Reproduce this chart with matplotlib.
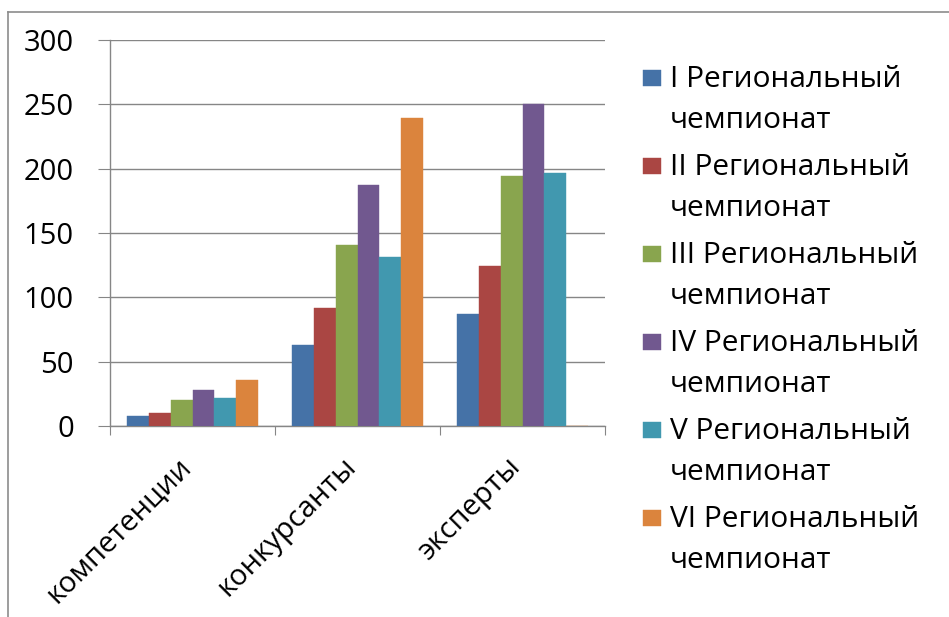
import matplotlib
matplotlib.use("Agg")
import matplotlib.pyplot as plt
import matplotlib.transforms as mtransforms
import numpy as np
from matplotlib.patches import Rectangle
from matplotlib.lines import Line2D

categories = ["компетенции", "конкурсанты", "эксперты"]
series_names = ["I Региональный\nчемпионат", "II Региональный\nчемпионат",
                "III Региональный\nчемпионат", "IV Региональный\nчемпионат",
                "V Региональный\nчемпионат", "VI Региональный\nчемпионат"]
s1 = [7.5, 63, 87]
s2 = [10, 92, 124]
s3 = [20, 141, 194]
s4 = [28, 187, 250]
s5 = [22, 131, 197]
s6 = [36, 239, 0]
series = [s1, s2, s3, s4, s5, s6]
colors = ["#4572A7", "#AA4643", "#89A54E", "#71588F", "#4198AF", "#DB843D"]
yticks = [0, 50, 100, 150, 200, 250, 300]

plt.rcParams['font.family'] = ['Open Sans', 'DejaVu Sans']
W, H = 949, 617
fig = plt.figure(figsize=(W / 100, H / 100), dpi=100)
ax = fig.add_axes([110 / W, 1 - 426 / H, 495 / W, 386 / H])

grid_c = "#868686"
x = np.arange(len(categories))
group = 0.797
bw = group / len(series)
for i, (vals, c) in enumerate(zip(series, colors)):
    ax.bar(x + (i - (len(series) - 1) / 2) * bw, vals, width=bw, color=c,
           edgecolor=c, linewidth=0.3, zorder=3)

ax.set_xlim(-0.5, len(categories) - 0.5)
ax.set_ylim(0, 300)
ax.set_yticks(yticks)
ax.set_yticklabels([str(v) for v in yticks])
ax.yaxis.grid(True, color=grid_c, linewidth=1.0, zorder=0)
ax.set_axisbelow(True)
for s in ["top", "right"]:
    ax.spines[s].set_visible(False)
for s in ["left", "bottom"]:
    ax.spines[s].set_color(grid_c)
    ax.spines[s].set_linewidth(1.0)

ax.tick_params(axis="y", length=9, width=0.8, color=grid_c, pad=17,
               labelsize=21, labelcolor="#000000")
ax.set_xticks(np.arange(-0.5, len(categories), 1.0))
ax.set_xticklabels([])
ax.tick_params(axis="x", which="major", length=6.5, width=0.8, color=grid_c)
ax.set_xticks(x, minor=True)
ax.set_xticklabels(categories, minor=True, rotation=45, ha="right",
                   va="center", rotation_mode="anchor")
ax.tick_params(axis="x", which="minor", length=0, pad=26, labelsize=21,
               labelcolor="#000000")
offset = mtransforms.ScaledTranslation(-6 / 100, 0, fig.dpi_scale_trans)
for lbl in ax.get_xticklabels(minor=True):
    lbl.set_transform(lbl.get_transform() + offset)

# legend (manual, handles aligned with first line)
for i, (name, c) in enumerate(zip(series_names, colors)):
    base = 87 + i * 88
    fig.add_artist(Rectangle((643 / W, 1 - (base - 1) / H), 18 / W, 16 / H,
                             transform=fig.transFigure, facecolor=c,
                             edgecolor=c, linewidth=0.3))
    lines = name.split("\n")
    for j, ln in enumerate(lines):
        fig.text(670 / W, 1 - (base + j * 41) / H, ln, fontsize=21.5,
                 color="#000000", ha="left", va="baseline")

# chart border (left and top visible)
fig.add_artist(Line2D([8 / W, 8 / W], [0, 1 - 12 / H], transform=fig.transFigure,
                      color="#8c8c8c", linewidth=1.2))
fig.add_artist(Line2D([8 / W, 1], [1 - 12 / H, 1 - 12 / H], transform=fig.transFigure,
                      color="#8c8c8c", linewidth=1.2))

fig.savefig("out.png", dpi=100)
